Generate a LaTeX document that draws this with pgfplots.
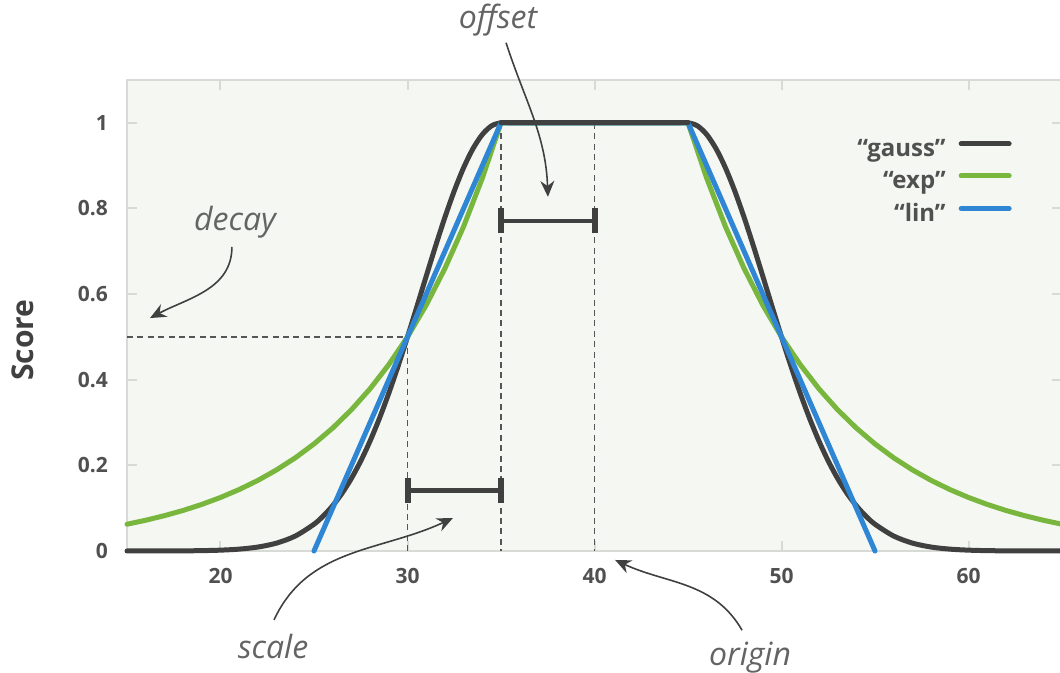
\documentclass[border=0pt]{standalone}
\usepackage{pgfplots}
\pgfplotsset{compat=1.18}
\usepackage{fontspec}
\setmainfont{Open Sans}
\usetikzlibrary{arrows.meta}
\definecolor{bgcol}{RGB}{245,247,242}
\definecolor{axcol}{RGB}{216,218,214}
\definecolor{txtcol}{RGB}{80,80,80}
\definecolor{gausscol}{RGB}{64,64,64}
\definecolor{expcol}{RGB}{120,182,61}
\definecolor{lincol}{RGB}{46,134,212}
\definecolor{anncol}{RGB}{100,100,100}
\definecolor{dashcol}{RGB}{85,85,85}
\begin{document}
\begin{tikzpicture}
\begin{axis}[name=ax, at={(0,0)}, anchor=south west,
  scale only axis, width=467.5pt, height=235.5pt,
  xmin=15, xmax=65, ymin=0, ymax=1.1,
  xtick={20,30,40,50,60}, ytick={0,0.2,0.4,0.6,0.8,1},
  clip=false,
  axis background/.style={fill=bgcol},
  axis line style={draw=axcol, line width=1pt},
  tick style={draw=axcol, line width=1pt},
  major tick length=5pt, tick align=inside,
  ticklabel style={font=\bfseries\fontsize{10.5}{12}\selectfont, text=txtcol},
  /pgf/number format/assume math mode=true,
  xticklabel style={yshift=-5pt},
  yticklabel style={xshift=-6pt},
  legend plot pos=right,
  legend cell align=right,
  legend image code/.code={\draw[#1] (0pt,0.5ex) -- (24pt,0.5ex);},
  legend style={at={(axis cs:62.65,0.977)}, anchor=north east, draw=none, fill=none,
    font=\bfseries\fontsize{12}{14}\selectfont, text=txtcol,
    row sep=4pt, column sep=5.5pt, nodes={inner sep=1pt}},
]
% guide lines
\draw[dashcol, line width=0.85pt, dash pattern=on 3pt off 2.2pt] (axis cs:15,0.5) -- (axis cs:30,0.5) -- (axis cs:30,0);
\draw[dashcol, line width=0.85pt, dash pattern=on 3pt off 2.2pt] (axis cs:35,1) -- (axis cs:35,0);
\draw[dashcol, line width=0.85pt, dash pattern=on 3pt off 2.2pt] (axis cs:40,1) -- (axis cs:40,0);

\addplot[gausscol, line width=2.5pt, line cap=round, smooth] coordinates {
(15,0.00002)(17,0.00012)(18,0.00033)(19,0.00083)(20,0.00195)(21,0.00437)(22,0.00922)(23,0.01845)(24,0.03491)
(25,0.0625)(25.5,0.0819)(26,0.10585)(26.5,0.13489)(27,0.16957)(27.5,0.21022)(28,0.25705)(28.5,0.30994)
(29,0.36857)(29.5,0.43226)(30,0.5)(30.5,0.57039)(31,0.64171)(31.5,0.71202)(32,0.77916)(32.5,0.84090)
(33,0.89502)(33.5,0.93952)(34,0.97265)(34.5,0.99309)(35,1)(35.5,1)(36,1)(37,1)(38,1)(39,1)(40,1)
(41,1)(42,1)(43,1)(44,1)(44.5,1)
(45,1)(45.5,0.99309)(46,0.97265)(46.5,0.93952)(47,0.89502)(47.5,0.84090)(48,0.77916)(48.5,0.71202)
(49,0.64171)(49.5,0.57039)(50,0.5)(50.5,0.43226)(51,0.36857)(51.5,0.30994)(52,0.25705)(52.5,0.21022)
(53,0.16957)(53.5,0.13489)(54,0.10585)(54.5,0.0819)(55,0.0625)(56,0.03491)(57,0.01845)(58,0.00922)
(59,0.00437)(60,0.00195)(61,0.00083)(62,0.00033)(63,0.00012)(65,0.00002)
};
\addlegendentry{“gauss”}
\addplot[expcol, line width=2.5pt, line cap=round, line join=round] coordinates {
(15,0.0625)(16,0.0718)(17,0.0825)(18,0.0947)(19,0.1088)(20,0.125)(21,0.1436)(22,0.1649)(23,0.1895)
(24,0.2176)(25,0.25)(26,0.2872)(27,0.3299)(28,0.3789)(29,0.4353)(30,0.5)(31,0.5743)(32,0.6598)
(33,0.7579)(34,0.8706)(35,1)(45,1)(46,0.8706)(47,0.7579)(48,0.6598)(49,0.5743)(50,0.5)(51,0.4353)
(52,0.3789)(53,0.3299)(54,0.2872)(55,0.25)(56,0.2176)(57,0.1895)(58,0.1649)(59,0.1436)(60,0.125)
(61,0.1088)(62,0.0947)(63,0.0825)(64,0.0718)(65,0.0625)
};
\addlegendentry{“exp”}
\addplot[lincol, line width=2.5pt, line cap=round, line join=round] coordinates {
(25,0)(35,1)(45,1)(55,0)
};
\addlegendentry{“lin”}
% redraw gauss flat top on top
\addplot[gausscol, line width=2.5pt, line cap=round, forget plot] coordinates {(35,1)(45,1)};

% brackets
\draw[gausscol, line width=2.3pt] (axis cs:35,0.771) -- (axis cs:40,0.771);
\draw[gausscol, line width=3pt] (axis cs:35,0.742) -- (axis cs:35,0.800);
\draw[gausscol, line width=3pt] (axis cs:40,0.742) -- (axis cs:40,0.800);
\draw[gausscol, line width=2.3pt] (axis cs:30,0.141) -- (axis cs:35,0.141);
\draw[gausscol, line width=3pt] (axis cs:30,0.111) -- (axis cs:30,0.171);
\draw[gausscol, line width=3pt] (axis cs:35,0.111) -- (axis cs:35,0.171);

% annotations
\tikzset{annot/.style={font=\itshape\fontsize{16}{18}\selectfont, text=anncol, inner sep=0pt},
         arr/.style={gausscol, line width=0.8pt, -{Stealth[length=8pt,width=7pt]}}}
\node[annot] at (axis cs:34.84,1.241) {offset};
\draw[arr] (axis cs:35.27,1.187) to[out=-72,in=92] (axis cs:37.51,0.827);
\node[annot] at (axis cs:20.78,0.769) {decay};
\draw[arr] (axis cs:20.61,0.710) to[out=-90,in=28] (axis cs:16.23,0.544);
\node[annot] at (axis cs:22.81,-0.224) {scale};
\draw[arr] (axis cs:22.86,-0.161) to[out=65,in=205] (axis cs:32.43,0.077);
\node[annot] at (axis cs:48.32,-0.248) {origin};
\draw[arr] (axis cs:47.89,-0.185) to[out=120,in=-25] (axis cs:41.10,-0.021);

\node[rotate=90, font=\bfseries\fontsize{15}{18}\selectfont, text=gausscol] at ([xshift=-52pt]rel axis cs:0,0.448) {Score};
\end{axis}
\pgfresetboundingbox
\path[use as bounding box] ([shift={(-63.5pt,-61pt)}]ax.south west) rectangle ([shift={(-1pt,40pt)}]ax.north east);
\end{tikzpicture}
\end{document}
